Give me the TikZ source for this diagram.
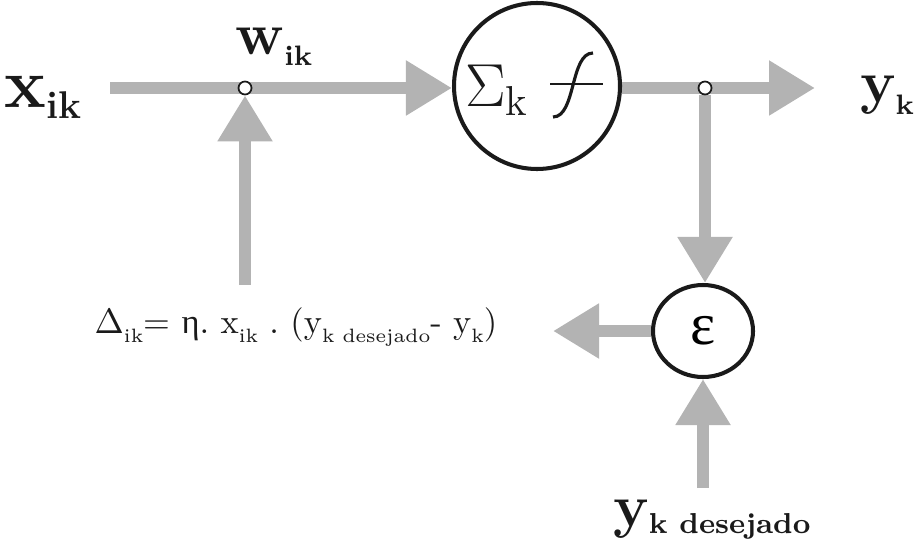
\documentclass[tikz,border=0pt]{standalone}
\usepackage{fontspec}
\newfontfamily\grk{Liberation Serif}
\usetikzlibrary{arrows.meta,backgrounds,shapes.geometric}
\newcommand{\lowsub}[3]{\raisebox{#1}{\fontsize{#2}{#2}\selectfont #3}}

\begin{document}
\frenchspacing
\begin{tikzpicture}[x=0.1mm,y=-0.1mm]
  \definecolor{wire}{HTML}{B3B3B3}
  \definecolor{ink}{HTML}{1A1A1A}
  \useasboundingbox (0,0) rectangle (915,551);
  \tikzset{
    cell/.style={draw=ink,line width=1.15pt,inner sep=0pt},
    junc/.style={circle,draw=ink,fill=white,line width=.5pt,minimum size=1.3mm,inner sep=0pt},
    flow/.style={draw=wire,line width=3.4pt,-{Triangle[length=4.6mm,width=5.2mm]}},
    lbl/.style={text=ink,inner sep=0pt},
    big/.style={lbl,font=\fontsize{#1}{#1}\selectfont\bfseries},
  }
  \node[cell,circle,minimum size=16.6mm] (soma) at (537,86) {};
  \node[cell,ellipse,minimum width=10mm,minimum height=9.2mm,
    font=\fontsize{17}{18}\selectfont\grk] (err) at (703,331) {ε};
  \node[junc] (wj) at (245,88) {};
  \node[junc] (yj) at (705,88) {};
  \coordinate (xstart) at (110,88);
  \coordinate (yend) at (815,88);
  \coordinate (wfoot) at (245,285);
  \coordinate (dfoot) at (703,488);
  \coordinate (lend) at (553,331);

  % Grey signal paths sit behind the junction dots.
  \begin{scope}[on background layer]
    \draw[flow] (xstart) -- (xstart -| soma.west);
    \draw[flow] (wfoot) -- (wj.south);
    \draw[flow] (yj -| soma.east) -- (yend);
    \draw[flow] (yj.south) -- (yj |- err.north);
    \draw[flow] (err.west) -- (lend);
    \draw[flow] (dfoot) -- (err.south);
  \end{scope}

  \draw[ink,line width=.5pt] (550,84) -- (603,84);
  \draw[ink,line width=.9pt] (553,117) .. controls (576,117) and (570,53) .. (593,53);
  \node[lbl,font=\fontsize{17}{18}\selectfont] (sum) at (497,90) {$\Sigma_{\mathrm{k}}$};

  \node[big=20] (xin) at (43,97) {x\lowsub{-1.1mm}{11}{ik}};
  \node[big=17] (wik) at (274,47) {w\lowsub{-1.1mm}{8}{ik}};
  \node[big=17] (yout) at (887,95) {y\lowsub{-1.2mm}{8}{k}};
  \node[big=17] (ydes) at (712,520) {y\lowsub{-.7mm}{8.2}{k desejado}};
  \node[lbl,font=\fontsize{9.8}{12}\selectfont] (rule) at (296,327)
    {$\Delta$\lowsub{-.85mm}{5.5}{ik}= {\grk η}. x\lowsub{-.85mm}{5.5}{ik} . (y\lowsub{-.85mm}{5.5}{k desejado}- y\lowsub{-.85mm}{5.5}{k})};
\end{tikzpicture}
\end{document}
